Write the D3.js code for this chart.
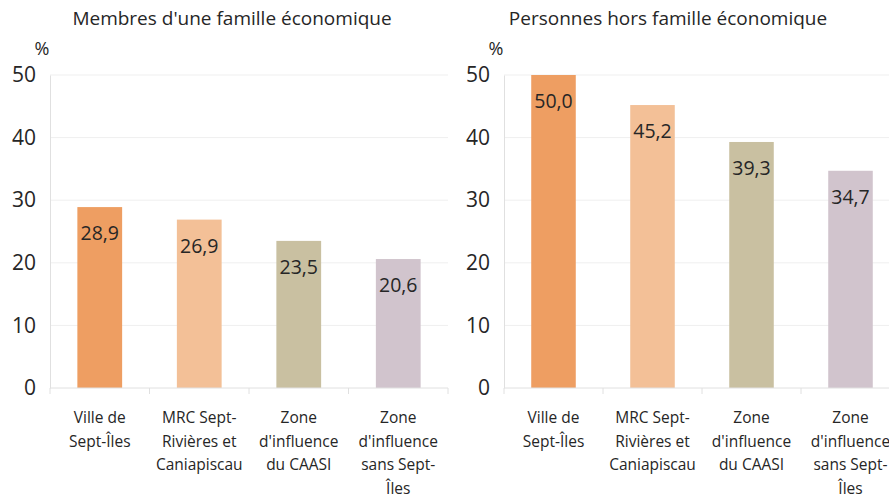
<!DOCTYPE html>
<html>
<head>
<meta charset="utf-8">
<script src="https://cdn.jsdelivr.net/npm/d3@7"></script>
<style>
    body { margin: 0; background: #fff; }
    svg text { font-family: "Open Sans", "Liberation Sans", sans-serif; fill: #262626; }
</style>
</head>
<body>
<div id="chart"></div>
<script>
// DATA
const categories = [
    ["Ville de", "Sept-Îles"],
    ["MRC Sept-", "Rivières et", "Caniapiscau"],
    ["Zone", "d'influence", "du CAASI"],
    ["Zone", "d'influence", "sans Sept-", "Îles"]
];
const panelTitles = ["Membres d'une famille économique", "Personnes hors famille économique"];
const membresValues = [28.9, 26.9, 23.5, 20.6];
const horsValues = [50.0, 45.2, 39.3, 34.7];
const yTicks = [0, 10, 20, 30, 40, 50];
const barColors = ["#ee9e62", "#f3c097", "#c9c0a1", "#d1c4cd"];

const width = 889, height = 499;
const svg = d3.select("#chart").append("svg")
    .attr("width", width)
    .attr("height", height);

const panels = [
    {title: panelTitles[0], values: membresValues, left: 50, right: 448, titleX: 232},
    {title: panelTitles[1], values: horsValues, left: 504, right: 900, titleX: 668}
];

const y = d3.scaleLinear()
    .domain([0, 50])
    .range([388, 75]);

panels.forEach(p => {
    const g = svg.append("g");
    const idx = d3.range(categories.length);

    const x = d3.scaleBand()
        .domain(idx)
        .range([p.left, p.right])
        .paddingInner(0.55)
        .paddingOuter(0.275);

    // title + unit
    g.append("text")
        .attr("x", p.titleX)
        .attr("y", 25)
        .attr("text-anchor", "middle")
        .style("font-size", "19px")
        .text(p.title);

    g.append("text")
        .attr("x", p.left - 8)
        .attr("y", 55)
        .attr("text-anchor", "middle")
        .style("font-size", "18px")
        .text("%");

    // gridlines
    g.selectAll(".grid")
        .data(yTicks.slice(1))
        .join("line")
        .attr("x1", p.left)
        .attr("x2", p.right)
        .attr("y1", d => y(d))
        .attr("y2", d => y(d))
        .attr("stroke", "#efefef");

    // y axis
    const yAxis = g.append("g")
        .attr("transform", `translate(${p.left},0)`)
        .call(d3.axisLeft(y).tickValues(yTicks).tickSize(0).tickPadding(14));
    yAxis.select(".domain").attr("stroke", "#e0e0e0");
    yAxis.selectAll("text")
        .style("font-size", "21px")
        .style("font-family", "'Open Sans', sans-serif")
        .attr("fill", "#262626");

    // bars
    g.selectAll(".bar")
        .data(p.values)
        .join("rect")
        .attr("x", (d, i) => x(i))
        .attr("y", d => y(d))
        .attr("width", x.bandwidth())
        .attr("height", d => y(0) - y(d))
        .attr("fill", (d, i) => barColors[i]);

    // value labels
    g.selectAll(".val")
        .data(p.values)
        .join("text")
        .attr("x", (d, i) => x(i) + x.bandwidth() / 2)
        .attr("y", d => y(d) + 33)
        .attr("text-anchor", "middle")
        .style("font-size", "19.5px")
        .text(d => d3.format(".1f")(d).replace(".", ","));

    // x axis line + ticks at category boundaries
    g.append("line")
        .attr("x1", p.left)
        .attr("x2", p.right)
        .attr("y1", y(0))
        .attr("y2", y(0))
        .attr("stroke", "#e0e0e0");

    const step = (p.right - p.left) / categories.length;
    g.selectAll(".tick-x")
        .data(d3.range(categories.length + 1))
        .join("line")
        .attr("x1", i => p.left + i * step)
        .attr("x2", i => p.left + i * step)
        .attr("y1", y(0))
        .attr("y2", y(0) + 6)
        .attr("stroke", "#e0e0e0");

    // category labels
    const cat = g.selectAll(".cat")
        .data(categories)
        .join("text")
        .attr("text-anchor", "middle")
        .style("font-size", "15.5px");

    cat.selectAll("tspan")
        .data((d, i) => d.map(line => ({line, i})))
        .join("tspan")
        .attr("x", d => x(d.i) + x.bandwidth() / 2)
        .attr("y", (d, j) => 423 + j * 23.6)
        .text(d => d.line);
});
</script>
</body>
</html>
